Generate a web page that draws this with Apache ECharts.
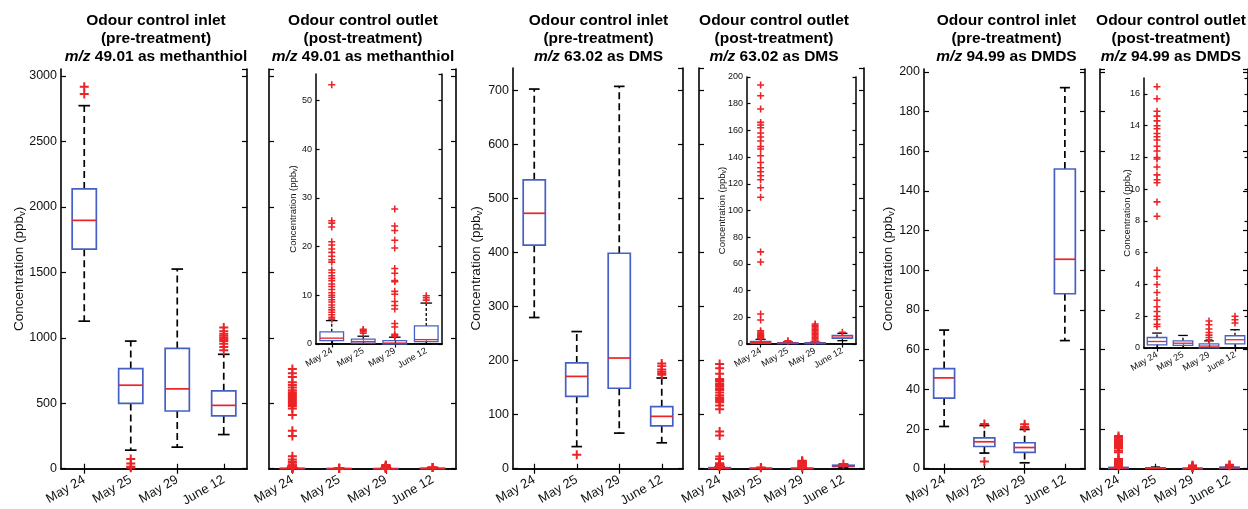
<!DOCTYPE html>
<html>
<head>
<meta charset="utf-8">
<script src="https://cdn.jsdelivr.net/npm/echarts@6/dist/echarts.min.js"></script>
<style>
  html, body { margin: 0; padding: 0; background: #fff; }
  #chart { width: 1248px; height: 509px; }
</style>
</head>
<body>
<div id="chart"></div>
<script>
// Sampling days
const dates = ['May 24', 'May 25', 'May 29', 'June 12'];

// Panel headings
const sites = ['Odour control inlet', 'Odour control outlet'];
const stages = ['(pre-treatment)', '(post-treatment)'];
const ions = ['49.01 as methanthiol', '63.02 as DMS', '94.99 as DMDS'];

// Box statistics per date: [lower whisker, Q1, median, Q3, upper whisker], ppbv
const methInletBox = [[1127, 1677, 1897, 2137, 2773], [142, 499, 638, 765, 975], [165, 441, 610, 919, 1525], [261, 403, 484, 595, 874]];
const methInletOut = [[2918, 2862], [75, 40, 15, 8], [], [1078, 1050, 1030, 1015, 1000, 990, 975, 955, 930, 905]];

const methOutletBox = [[0, 0.7, 1.2, 2.5, 4.8], [0, 0.2, 0.5, 1.0, 1.6], [0, 0.0, 0.2, 0.7, 1.4], [0, 0.5, 0.9, 3.7, 8.4]];
const methOutletOut = [
  [53.2, 25.3, 24.8, 24.0, 21.0, 20.3, 19.5, 18.8, 18.0, 17.3, 16.8, 15.2, 14.6, 14.0, 13.5, 13.0, 12.3, 11.8, 11.2, 10.5, 10.0, 9.6, 9.1, 8.6, 8.0, 7.5, 7.0, 6.5, 6.0, 5.5, 5.1],
  [2.2, 2.5, 2.8, 3.0],
  [27.7, 24.2, 23.3, 21.3, 19.7, 15.5, 14.5, 13.0, 12.8, 10.8, 10.2, 8.7, 7.9, 7.2, 4.2, 3.5, 2.0, 1.8, 1.6],
  [9.0, 9.5, 9.9]
];
// May 24 outlet readings that sit far above the zoomed range
const methOutletFar = [762, 730, 700, 660, 640, 620, 600, 585, 570, 555, 540, 525, 510, 495, 480, 460, 410, 290, 250, 95, 70, 45, 25];

const dmsInletBox = [[280, 414, 473, 535, 703], [41, 134, 171, 196, 254], [66, 149, 205, 399, 708], [48, 79.5, 97, 115, 168]];
const dmsInletOut = [[], [26], [], [195, 190, 184, 180, 177, 174]];

const dmsOutletBox = [[0, 0.5, 1.0, 2.0, 3.5], [0, 0.3, 0.6, 1.0, 1.5], [0, 0.2, 0.5, 1.0, 1.4], [2.5, 4.2, 5.2, 6.5, 8.0]];
const dmsOutletOut = [
  [194, 186, 176, 166, 164, 162, 158, 155, 152, 148, 146, 141, 136, 132, 129, 126, 123, 117, 110, 69, 61.5, 22.5, 18, 10, 9, 8, 7, 6.5, 6, 5.5, 5, 4.5, 4],
  [2.0, 2.5],
  [15, 14, 13, 12, 11, 10, 9, 8, 7, 6, 5, 4, 3, 2],
  [8.8]
];

const dmdsInletBox = [[21.3, 35.6, 45.8, 50.5, 69.9], [7.9, 11.2, 13.6, 15.6, 21.8], [3.0, 8.2, 10.7, 13.1, 19.8], [64.6, 88.2, 105.6, 151.1, 192.1]];
const dmdsInletOut = [[], [22.6, 3.6], [22.4, 21.0, 20.6], []];

const dmdsOutletBox = [[0, 0.2, 0.41, 0.66, 0.94], [0, 0.16, 0.3, 0.45, 0.79], [0, 0.01, 0.12, 0.26, 0.45], [0, 0.26, 0.52, 0.77, 1.15]];
const dmdsOutletOut = [
  [16.45, 15.7, 14.9, 14.6, 14.3, 14.0, 13.8, 13.5, 13.3, 13.1, 12.7, 12.4, 12.0, 11.9, 11.4, 10.9, 10.6, 10.4, 9.2, 8.3, 4.9, 4.5, 4.0, 3.5, 3.0, 2.6, 2.3, 2.0, 1.8, 1.5, 1.35],
  [],
  [1.7, 1.46, 1.2, 0.98, 0.81, 0.66, 0.52],
  [2.0, 1.78, 1.57]
];

const FONT = '"Liberation Sans", Arial, Helvetica, sans-serif';
const BLUE = '#4560c4';
const RED = '#ec2327';
const INK = '#000';
const PLUS = 'path://M0,3.9H10V6.1H0Z M3.9,0H6.1V10H3.9Z';

const mainStyle = { lw: 1.7, axisW: 1.6, tick: 5, font: 12.5, xFont: 13, nameFont: 13.5, subFont: 9.5, boxFrac: 0.52, capFrac: 0.25, dash: [7, 4], sym: 9, labelMargin: 10 };
const insetStyle = { lw: 1.3, axisW: 1.5, tick: 3.5, font: 9, xFont: 9, nameFont: 9.5, subFont: 7, boxFrac: 0.75, capFrac: 0.37, dash: [3, 2], sym: 7, labelMargin: 6 };

function withFar(out, far) {
  return out.map((arr, k) => (k === 0 ? arr.concat(far) : arr));
}

const panels = [
  { s: mainStyle, grid: { left: 61, top: 69, width: 186, height: 402 }, yMax: 3053, step: 500, labels: true, nameGap: 34, box: methInletBox, out: methInletOut },
  { s: mainStyle, grid: { left: 269, top: 69, width: 187, height: 401 }, yMax: 3053, step: 500, labels: false, box: methOutletBox, out: withFar(methOutletOut, methOutletFar) },
  { s: mainStyle, grid: { left: 513, top: 68, width: 170, height: 402 }, yMax: 742, step: 100, labels: true, nameGap: 29, box: dmsInletBox, out: dmsInletOut },
  { s: mainStyle, grid: { left: 699, top: 68, width: 165, height: 402 }, yMax: 742, step: 100, labels: false, box: dmsOutletBox, out: dmsOutletOut },
  { s: mainStyle, grid: { left: 924, top: 69, width: 161, height: 400 }, yMax: 201.5, step: 20, labels: true, nameGap: 28, box: dmdsInletBox, out: dmdsInletOut },
  { s: mainStyle, grid: { left: 1100, top: 69, width: 159, height: 400 }, yMax: 201.5, step: 20, labels: false, box: dmdsOutletBox, out: dmdsOutletOut },
  // zoomed views of the outlet data
  { s: insetStyle, grid: { left: 316, top: 74, width: 126, height: 270 }, yMax: 55.4, step: 10, labels: true, nameGap: 17, box: methOutletBox, out: methOutletOut },
  { s: insetStyle, grid: { left: 747, top: 77, width: 109, height: 267 }, yMax: 200, step: 20, labels: true, nameGap: 19, box: dmsOutletBox, out: dmsOutletOut },
  { s: insetStyle, grid: { left: 1144, top: 78, width: 106, height: 270 }, yMax: 17, step: 2, labels: true, nameGap: 11, box: dmdsOutletBox, out: dmdsOutletOut }
];

const titleCenters = [156, 363, 598.5, 774, 1006.5, 1171];

function boxRenderer(s) {
  return function (params, api) {
    const i = api.value(0);
    const pt = k => api.coord([i, api.value(k)]);
    const lo = pt(1), q1 = pt(2), md = pt(3), q3 = pt(4), hi = pt(5);
    const band = api.size([1, 0])[0];
    const half = band * s.boxFrac / 2;
    const cap = band * s.capFrac / 2;
    const cx = lo[0];
    const whisk = { stroke: INK, lineWidth: s.lw, lineDash: s.dash, fill: null };
    const solid = { stroke: INK, lineWidth: s.lw, fill: null };
    return {
      type: 'group',
      children: [
        { type: 'line', shape: { x1: cx, y1: q3[1], x2: cx, y2: hi[1] }, style: whisk },
        { type: 'line', shape: { x1: cx, y1: q1[1], x2: cx, y2: lo[1] }, style: whisk },
        { type: 'line', shape: { x1: cx - cap, y1: hi[1], x2: cx + cap, y2: hi[1] }, style: solid },
        { type: 'line', shape: { x1: cx - cap, y1: lo[1], x2: cx + cap, y2: lo[1] }, style: solid },
        { type: 'rect', shape: { x: cx - half, y: q3[1], width: 2 * half, height: Math.max(q1[1] - q3[1], 0) }, style: { fill: 'none', stroke: BLUE, lineWidth: s.lw } },
        { type: 'line', shape: { x1: cx - half, y1: md[1], x2: cx + half, y2: md[1] }, style: { stroke: RED, lineWidth: s.lw, fill: null } }
      ]
    };
  };
}

const grid = [], xAxis = [], yAxis = [], series = [];

panels.forEach((p, i) => {
  const s = p.s;
  grid.push(Object.assign({ containLabel: false }, p.grid));
  const line = { show: true, lineStyle: { color: INK, width: s.axisW } };
  const tickX = { show: true, inside: true, alignWithLabel: true, length: s.tick, lineStyle: { color: INK, width: 1.2 } };
  const tickY = { show: true, inside: true, length: s.tick, lineStyle: { color: INK, width: 1.2 } };
  const maxIsTick = Math.abs(p.yMax / p.step - Math.round(p.yMax / p.step)) < 1e-6;

  xAxis.push({
    gridIndex: i, type: 'category', data: dates, boundaryGap: true, position: 'bottom',
    axisLine: line, axisTick: tickX, splitLine: { show: false },
    axisLabel: { interval: 0, rotate: 30, margin: s.labelMargin, fontSize: s.xFont, fontFamily: FONT, color: '#111' }
  });
  xAxis.push({
    gridIndex: i, type: 'category', data: dates, boundaryGap: true, position: 'top',
    axisLine: line, axisTick: tickX, axisLabel: { show: false }, splitLine: { show: false }
  });

  const yLeft = {
    gridIndex: i, type: 'value', min: 0, max: p.yMax, interval: p.step, position: 'left',
    axisLine: line, axisTick: tickY, splitLine: { show: false },
    axisLabel: {
      show: p.labels, showMaxLabel: maxIsTick, margin: 4, fontSize: s.font, fontFamily: FONT, color: '#111',
      formatter: v => String(v)
    }
  };
  if (p.nameGap !== undefined) {
    yLeft.name = '{a|Concentration (ppb}{s|v}{a|)}';
    yLeft.nameLocation = 'middle';
    yLeft.nameRotate = 90;
    yLeft.nameGap = p.nameGap;
    yLeft.nameMoveOverlap = false;
    yLeft.nameTextStyle = {
      rich: {
        a: { fontSize: s.nameFont, fontFamily: FONT, color: '#111', lineHeight: s.nameFont + 2 },
        s: { fontSize: s.subFont, fontFamily: FONT, color: '#111', lineHeight: s.subFont + 1, verticalAlign: 'bottom' }
      }
    };
  }
  yAxis.push(yLeft);
  yAxis.push({
    gridIndex: i, type: 'value', min: 0, max: p.yMax, interval: p.step, position: 'right',
    axisLine: line, axisTick: tickY, axisLabel: { show: false }, splitLine: { show: false }
  });

  series.push({
    type: 'custom', xAxisIndex: 2 * i, yAxisIndex: 2 * i, silent: true, z: 3,
    renderItem: boxRenderer(s),
    encode: { x: 0, y: [1, 2, 3, 4, 5] },
    data: p.box.map((b, k) => [k].concat(b))
  });

  const pts = [];
  p.out.forEach((arr, k) => arr.forEach(v => pts.push([k, v])));
  series.push({
    type: 'scatter', xAxisIndex: 2 * i, yAxisIndex: 2 * i, silent: true, z: 4,
    symbol: PLUS, symbolSize: s.sym, itemStyle: { color: RED, opacity: 1 },
    data: pts
  });
});

const tFont = 15.5, tLine = 18;
const titleRich = {
  b: { fontSize: tFont, fontWeight: 'bold', fontFamily: FONT, lineHeight: tLine, fill: '#000' },
  i: { fontSize: tFont, fontWeight: 'bold', fontStyle: 'italic', fontFamily: FONT, lineHeight: tLine, fill: '#000' }
};
const graphic = titleCenters.map((cx, k) => ({
  type: 'text', x: cx, y: 12, silent: true,
  style: {
    text: '{b|' + sites[k % 2] + '}\n{b|' + stages[k % 2] + '}\n{i|m/z}{b| ' + ions[Math.floor(k / 2)] + '}',
    align: 'center', verticalAlign: 'top', rich: titleRich, fill: '#000'
  }
}));

const chart = echarts.init(document.getElementById('chart'), null, { renderer: 'canvas' });
chart.setOption({
  backgroundColor: '#fff',
  animation: false,
  grid, xAxis, yAxis, series, graphic
});
</script>
</body>
</html>
